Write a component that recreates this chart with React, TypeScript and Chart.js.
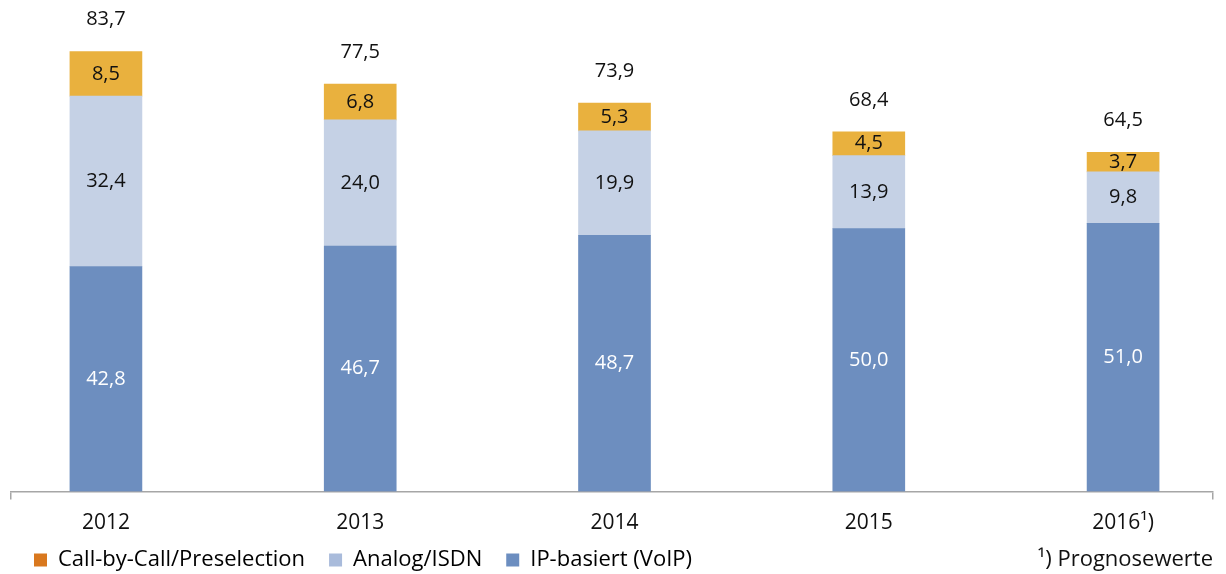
import React, { useEffect, useRef } from "react";
import { Chart, registerables } from "chart.js";

Chart.register(...registerables);

const categories = ["2012", "2013", "2014", "2015", "2016¹)"];
const ipValues = [42.8, 46.7, 48.7, 50.0, 51.0];
const analogValues = [32.4, 24.0, 19.9, 13.9, 9.8];
const callValues = [8.5, 6.8, 5.3, 4.5, 3.7];
const seriesNames = ["IP-basiert (VoIP)", "Analog/ISDN", "Call-by-Call/Preselection"];
const footnote = "¹) Prognosewerte";

const FONT = "'Open Sans', 'Noto Sans', sans-serif";
const barColors = ["#6d8ebf", "#c5d1e5", "#e9b13e"];
const legendColors = ["#6c8ec0", "#a9bbdb", "#d9781e"];
const labelColors = ["#ffffff", "#111111", "#111111"];

const X_MIN = -0.3733;
const X_MAX = 4.3536;
const LEGEND_SHRINK = 28.6;
const LEGEND_SHIFT = 21.6;

const fmt = (v: number) => v.toFixed(1).replace(".", ",");

export default function App() {
  const ref = useRef<HTMLCanvasElement | null>(null);

  useEffect(() => {
    if (!ref.current) return;
    const series = [ipValues, analogValues, callValues];
    const totals = ipValues.map((v, i) => v + analogValues[i] + callValues[i]);

    const labelPlugin = {
      id: "valueLabels",
      beforeInit(chart: any) {
        const lg = chart.legend;
        if (lg) {
          const origFit = lg.fit.bind(lg);
          lg.fit = function () {
            origFit();
            this.height -= LEGEND_SHRINK;
          };
          const origDraw = lg.draw.bind(lg);
          lg.draw = function () {
            const top = this.top;
            this.top = top - LEGEND_SHIFT;
            origDraw();
            this.top = top;
          };
        }
      },
      afterDatasetsDraw(chart: any) {
        const ctx = chart.ctx;
        ctx.save();
        ctx.font = `20px ${FONT}`;
        ctx.textAlign = "center";
        ctx.textBaseline = "middle";
        chart.data.datasets.forEach((ds: any, di: number) => {
          const meta = chart.getDatasetMeta(di);
          meta.data.forEach((bar: any, i: number) => {
            const v = series[di][i];
            ctx.fillStyle = labelColors[di];
            ctx.fillText(fmt(v), bar.x, (bar.y + bar.base) / 2);
          });
        });
        const topMeta = chart.getDatasetMeta(2);
        topMeta.data.forEach((bar: any, i: number) => {
          ctx.fillStyle = "#111111";
          ctx.fillText(fmt(totals[i]), bar.x, bar.y - 32);
        });
        ctx.restore();
      },
      afterDraw(chart: any) {
        const ctx = chart.ctx;
        const lg = chart.legend;
        if (lg && lg.legendHitBoxes && lg.legendHitBoxes.length) {
          const hb = lg.legendHitBoxes[0];
          ctx.save();
          ctx.font = `22px ${FONT}`;
          ctx.textAlign = "right";
          ctx.textBaseline = "middle";
          ctx.fillStyle = "#111111";
          ctx.fillText(footnote, chart.chartArea.right, hb.top + hb.height / 2 - LEGEND_SHIFT);
          ctx.restore();
        }
      },
    };

    const chart = new Chart(ref.current, {
      type: "bar",
      data: {
        datasets: series.map((vals, di) => ({
          label: seriesNames[di],
          data: vals.map((v, i) => ({ x: i, y: v })),
          backgroundColor: barColors[di],
          borderWidth: 0,
          barThickness: 72,
        })),
      },
      options: {
        animation: false,
        responsive: true,
        maintainAspectRatio: false,
        layout: { padding: { left: 10, right: 13, top: 0, bottom: 0 } },
        scales: {
          x: {
            type: "linear",
            stacked: true,
            offset: false,
            min: X_MIN,
            max: X_MAX,
            afterBuildTicks: (scale: any) => {
              scale.ticks = [X_MIN, ...categories.map((_, i) => i), X_MAX].map((value) => ({ value }));
            },
            border: { display: true, color: "#a6a6a6", width: 1.5 },
            grid: {
              display: true,
              offset: false,
              drawOnChartArea: false,
              drawTicks: true,
              tickLength: 8,
              color: (c: any) =>
                c.tick && Number.isInteger(c.tick.value) ? "rgba(0,0,0,0)" : "#a6a6a6",
              lineWidth: 1.5,
            },
            ticks: {
              autoSkip: false,
              maxRotation: 0,
              padding: 11,
              color: "#111111",
              font: { family: FONT, size: 21 },
              callback: (v: any) =>
                Number.isInteger(v) && categories[v] !== undefined ? categories[v] : "",
            },
          },
          y: {
            display: false,
            stacked: true,
            min: 0,
            max: 93.5,
          },
        },
        plugins: {
          legend: {
            position: "bottom",
            align: "start",
            labels: {
              boxWidth: 13,
              boxHeight: 13,
              padding: 24,
              color: "#111111",
              font: { family: FONT, size: 22 },
              generateLabels: () =>
                [2, 1, 0].map((di) => ({
                  text: seriesNames[di],
                  fillStyle: legendColors[di],
                  strokeStyle: legendColors[di],
                  lineWidth: 0,
                  hidden: false,
                  datasetIndex: di,
                })),
            },
          },
          tooltip: { enabled: false },
        },
      },
      plugins: [labelPlugin],
    });
    return () => chart.destroy();
  }, []);

  return (
    <div style={{ position: "fixed", left: 0, top: 0, width: 1226, height: 574, background: "#fff" }}>
      <canvas ref={ref} />
    </div>
  );
}
